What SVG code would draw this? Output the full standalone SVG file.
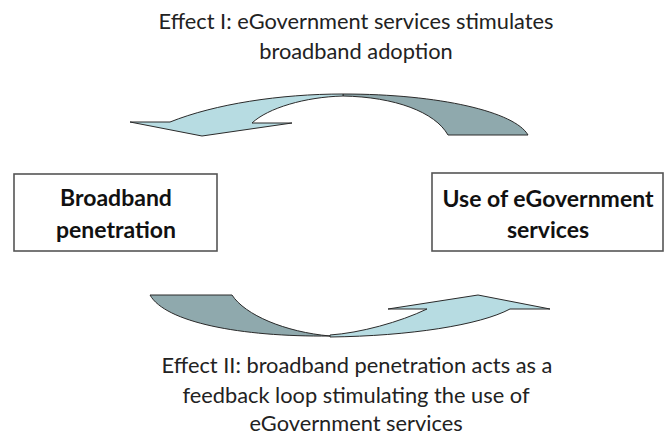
<svg xmlns="http://www.w3.org/2000/svg" width="666" height="437" viewBox="0 0 666 437">
<style>
.lbl{font-family:Lato,"Open Sans","Liberation Sans",sans-serif;font-size:21.8px;fill:#222;text-anchor:middle}
.nodet{font-family:Lato,"Open Sans","Liberation Sans",sans-serif;font-size:23px;font-weight:bold;fill:#111;text-anchor:middle}
.box{fill:#fff;stroke:#555;stroke-width:1.6}
.light{fill:#b7dce2;stroke:#2a2a2a;stroke-width:1;stroke-linejoin:round}
.dark{fill:#8fa9ad;stroke:#2a2a2a;stroke-width:1;stroke-linejoin:round}
</style>
<rect width="666" height="437" fill="#fff"/>
<g id="label-effect1">
<text class="lbl" x="356" y="29">Effect I: eGovernment services stimulates</text>
<text class="lbl" x="356" y="59">broadband adoption</text>
</g>
<g id="connectors">
<g id="arrow-effect1">
<path class="dark" d="M343,94 C440,94 515,112 528,135 L448,135 C435,112 395,97 343,96 Z"/>
<path class="light" d="M130,122 L170,122 C215,104 280,94 343,94 L343,96 C305,97 268,108 252,123 L292,123 L202,136 Z"/>
</g>
<g id="arrow-effect2">
<path class="dark" d="M150,295 L232,295 C245,315 285,332 330,336 C240,337 165,322 150,295 Z"/>
<path class="light" d="M330,337 C410,336 480,325 510,309 L550,309 L478,295 L388,309 L427,309 C400,322 360,333 330,335 Z"/>
</g>
</g>
<g id="node-broadband">
<rect class="box" x="14" y="174" width="203" height="77"/>
<text class="nodet" x="116" y="206">Broadband</text>
<text class="nodet" x="116" y="238">penetration</text>
</g>
<g id="node-egov">
<rect class="box" x="432" y="173" width="231" height="78"/>
<text class="nodet" x="548" y="207">Use of eGovernment</text>
<text class="nodet" x="548" y="238">services</text>
</g>
<g id="label-effect2">
<text class="lbl" x="357" y="373">Effect II: broadband penetration acts as a</text>
<text class="lbl" x="356" y="403">feedback loop stimulating the use of</text>
<text class="lbl" x="356" y="431">eGovernment services</text>
</g>
</svg>
